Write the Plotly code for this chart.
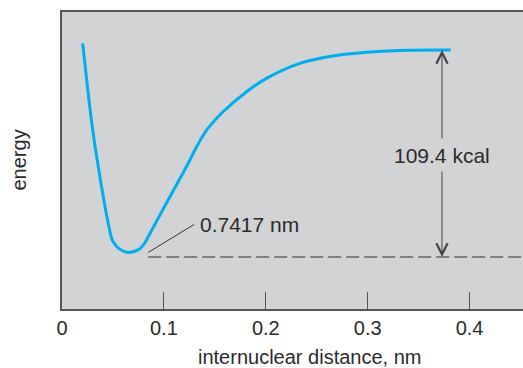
import plotly.graph_objects as go

# Potential energy curve (x in nm, energy in kcal relative to dissociation)
distance_nm = [0.0203, 0.0301, 0.0405, 0.0454, 0.0497, 0.0569, 0.0650,
               0.0755, 0.0812, 0.0863, 0.1059, 0.1222, 0.1321, 0.1419, 0.1581, 0.1811,
               0.2007, 0.2333, 0.2660, 0.2987, 0.3314, 0.3814]
energy_kcal = [4.5, -41.6, -77.3, -91.5, -100.8, -105.4, -107.0,
               -105.4, -102.0, -96.9, -77.3, -61.2, -50.7, -41.8, -32.0, -21.3,
               -14.2, -6.2, -2.3, -0.3, 0.7, 0.9]

tick_vals = [0, 0.1, 0.2, 0.3, 0.4]
tick_text = ["0", "0.1", "0.2", "0.3", "0.4"]

bond_energy = -109.4       # baseline (dashed line)
asymptote = 0.9
arrow_x = 0.3729
label_gap = [-47.1, -63.1]
dash_x = [0.0846, 0.46]
leader_x = [0.0846, 0.1297]
leader_y = [-107.0, -92.1]

TXT = "#2b2b2b"
FONT = "Liberation Sans, Arial, sans-serif"

fig = go.Figure()
fig.add_trace(go.Scatter(x=distance_nm, y=energy_kcal, mode="lines",
                         line=dict(color="#00aeef", width=3, shape="spline", smoothing=0.9),
                         hoverinfo="skip"))
fig.add_trace(go.Scatter(x=dash_x, y=[bond_energy, bond_energy], mode="lines",
                         line=dict(color="#666666", width=1.5, dash="13px,5px"),
                         hoverinfo="skip"))
fig.add_trace(go.Scatter(x=leader_x, y=leader_y, mode="lines",
                         line=dict(color="#333333", width=1), hoverinfo="skip"))

# double arrow split by label
for tail, head in [(label_gap[0], asymptote), (label_gap[1], bond_energy)]:
    fig.add_annotation(x=arrow_x, y=head, ax=arrow_x, ay=tail, axref="x", ayref="y",
                       text="", showarrow=True, arrowhead=5, arrowsize=2.2,
                       arrowwidth=1, arrowcolor="#444444")
fig.add_annotation(x=arrow_x, y=(label_gap[0] + label_gap[1]) / 2, text="109.4 kcal",
                   showarrow=False, font=dict(size=21, color=TXT, family=FONT),
                   xanchor="center", yanchor="middle")
fig.add_annotation(x=leader_x[1], y=leader_y[1], text="0.7417 nm", showarrow=False,
                   font=dict(size=21, color=TXT, family=FONT),
                   xanchor="left", yanchor="middle", xshift=4)

# axis titles
fig.add_annotation(xref="paper", yref="paper", x=(309 - 62) / 461, y=-(357 - 309) / 297,
                   text="internuclear distance, nm", showarrow=False,
                   font=dict(size=20, color=TXT, family=FONT),
                   xanchor="center", yanchor="middle")
fig.add_annotation(xref="paper", yref="paper", x=(18 - 62) / 461, y=0.5,
                   text="energy", showarrow=False, textangle=-90,
                   font=dict(size=20, color=TXT, family=FONT),
                   xanchor="center", yanchor="middle")

fig.update_layout(
    width=523, height=368,
    margin=dict(l=62, r=0, t=12, b=59),
    paper_bgcolor="white", plot_bgcolor="#d1d3d4",
    showlegend=False,
    font=dict(family=FONT, color=TXT, size=20),
)
fig.update_xaxes(range=[0, 461 / 1019], tickvals=tick_vals, ticktext=tick_text,
                 ticks="inside", ticklen=17, tickwidth=1.2, tickcolor="#555555",
                 showline=True, linecolor="#555555", linewidth=1.5, mirror=True,
                 showgrid=False, zeroline=False,
                 tickfont=dict(size=20, color=TXT, family=FONT))
fig.update_yaxes(range=[-137.2, 21.2], showticklabels=False, ticks="",
                 showline=True, linecolor="#555555", linewidth=1.5, mirror=False,
                 showgrid=False, zeroline=False)

fig.write_html("out.html", config={"displayModeBar": False},
               post_script="document.body.style.margin='0';document.body.style.overflow='hidden';")
